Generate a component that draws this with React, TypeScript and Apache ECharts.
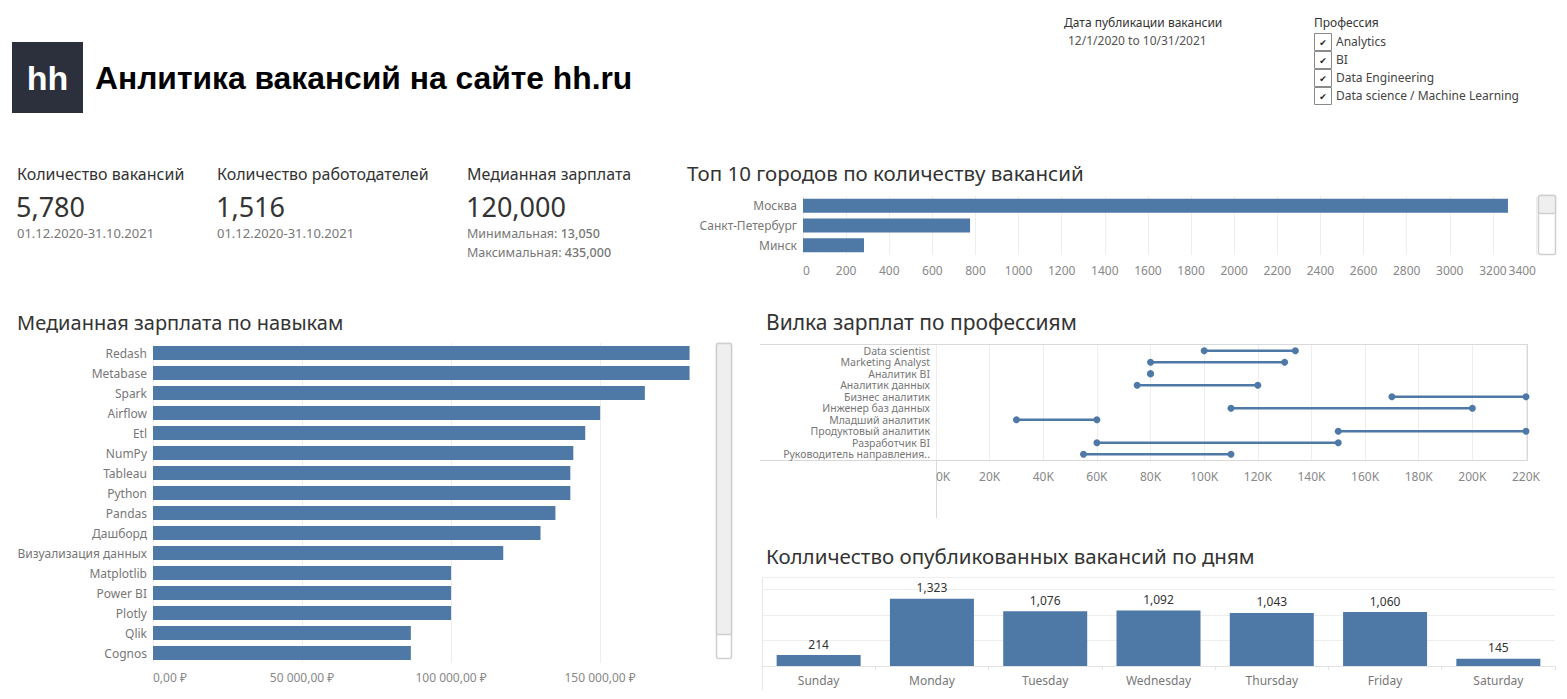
import React, { useEffect, useRef } from "react";
import * as echarts from "echarts";

const BLUE = "#4e79a7";
const FONT = '"Noto Sans", sans-serif';

const cities = ["Москва", "Санкт-Петербург", "Минск"];
const cityCounts = [3270, 775, 283];

const skills = [
  "Redash", "Metabase", "Spark", "Airflow", "Etl", "NumPy", "Tableau", "Python",
  "Pandas", "Дашборд", "Визуализация данных", "Matplotlib", "Power BI", "Plotly", "Qlik", "Cognos",
];
const skillSalary = [
  180000, 180000, 165000, 150000, 145000, 141000, 140000, 140000,
  135000, 130000, 117500, 100000, 100000, 100000, 86500, 86500,
];

const professions = [
  "Data scientist", "Marketing Analyst", "Аналитик BI", "Аналитик данных", "Бизнес аналитик",
  "Инженер баз данных", "Младший аналитик", "Продуктовый аналитик", "Разработчик BI", "Руководитель направления..",
];
const salaryMin = [100000, 80000, 80000, 75000, 170000, 110000, 30000, 150000, 60000, 55000];
const salaryMax = [134000, 130000, 80000, 120000, 220000, 200000, 60000, 220000, 150000, 110000];

const days = ["Sunday", "Monday", "Tuesday", "Wednesday", "Thursday", "Friday", "Saturday"];
const dayCounts = [214, 1323, 1076, 1092, 1043, 1060, 145];

const kpiTitles = ["Количество вакансий", "Количество работодателей", "Медианная зарплата"];
const kpiValues = ["5,780", "1,516", "120,000"];
const kpiPeriod = "01.12.2020-31.10.2021";
const kpiMin = "13,050";
const kpiMax = "435,000";

const professionFilter = ["Analytics", "BI", "Data Engineering", "Data science / Machine Learning"];

function rub(v: number) {
  const s = Math.round(v).toString().replace(/\B(?=(\d{3})+(?!\d))/g, " ");
  return s + ",00 ₽";
}

function txt(x: number, y: number, text: string, font: string, fill: string, align = "left", extra: any = {}) {
  return {
    type: "text",
    x,
    y,
    silent: true,
    style: { text, font, fill, align, verticalAlign: "middle", ...extra },
  };
}

function line(x1: number, y1: number, x2: number, y2: number, stroke = "#d9d9d9", lineWidth = 1) {
  return {
    type: "line",
    silent: true,
    shape: { x1, y1, x2, y2 },
    style: { stroke, lineWidth },
  };
}

export default function App() {
  const ref = useRef<HTMLDivElement>(null);

  useEffect(() => {
    if (!ref.current) return;
    const chart = echarts.init(ref.current, null, { renderer: "svg" });

    const graphics: any[] = [];
    // Logo + title
    graphics.push({
      type: "rect",
      silent: true,
      shape: { x: 12, y: 42, width: 71, height: 71 },
      style: { fill: "#2b303c" },
    });
    graphics.push(txt(47.5, 78, "hh", 'bold 34px "Liberation Sans", Arial', "#ffffff", "center"));
    graphics.push(txt(95, 78, "Анлитика вакансий на сайте hh.ru", 'bold 31.8px "Liberation Sans", Arial', "#000000"));

    // Filters
    graphics.push(txt(1064, 22, "Дата публикации вакансии", `12px ${FONT}`, "#333"));
    graphics.push(txt(1068, 40, "12/1/2020 to 10/31/2021", `12px ${FONT}`, "#555"));
    graphics.push(txt(1314, 22, "Профессия", `12px ${FONT}`, "#333"));
    professionFilter.forEach((p, i) => {
      const y = 33 + i * 18;
      graphics.push({
        type: "rect",
        silent: true,
        shape: { x: 1314.5, y: y + 0.5, width: 17, height: 17 },
        style: { fill: "#fff", stroke: "#8a8a8a", lineWidth: 1 },
      });
      graphics.push(txt(1323, y + 9.5, "✔", '9px "DejaVu Sans"', "#222", "center"));
      graphics.push(txt(1336, y + 8.5, p, `12px ${FONT}`, "#444"));
    });

    // KPIs
    const kx = [17, 217, 467];
    kx.forEach((x, i) => {
      graphics.push(txt(x, 174, kpiTitles[i], `16px ${FONT}`, "#333"));
      graphics.push(txt(x - 1, 206, kpiValues[i], `27px ${FONT}`, "#333"));
      if (i < 2) graphics.push(txt(x, 233, kpiPeriod, `13px ${FONT}`, "#777"));
    });
    const richKpi = {
      a: { fontFamily: FONT, fontSize: 12.5, color: "#777" },
      b: { fontFamily: FONT, fontSize: 12.5, color: "#333", fontWeight: 500 },
    };
    graphics.push(txt(467, 233, `{a|Минимальная:} {b|${kpiMin}}`, `12.5px ${FONT}`, "#777", "left", { rich: richKpi }));
    graphics.push(txt(467, 252, `{a|Максимальная:} {b|${kpiMax}}`, `12.5px ${FONT}`, "#777", "left", { rich: richKpi }));

    // Chart titles
    graphics.push(txt(687, 173, "Топ 10 городов по количеству вакансий", `20.5px ${FONT}`, "#333"));
    graphics.push(txt(17, 322, "Медианная зарплата по навыкам", `20px ${FONT}`, "#333"));
    graphics.push(txt(766, 322, "Вилка зарплат по профессиям", `21px ${FONT}`, "#333"));
    graphics.push(txt(766, 556, "Колличество опубликованных вакансий по дням", `20.5px ${FONT}`, "#333"));

    // Scrollbars
    graphics.push({
      type: "rect", silent: true,
      shape: { x: 1538.5, y: 195.5, width: 17, height: 59, r: 2 },
      style: { fill: "#fff", stroke: "#cfcfcf", lineWidth: 1.5 },
    });
    graphics.push({
      type: "rect", silent: true,
      shape: { x: 1538.5, y: 195.5, width: 17, height: 18, r: 2 },
      style: { fill: "#efefef", stroke: "#cfcfcf", lineWidth: 1.5 },
    });
    graphics.push({
      type: "rect", silent: true,
      shape: { x: 716.5, y: 343.5, width: 15, height: 315, r: 2 },
      style: { fill: "#fff", stroke: "#cfcfcf", lineWidth: 1.5 },
    });
    graphics.push({
      type: "rect", silent: true,
      shape: { x: 716.5, y: 343.5, width: 15, height: 291, r: 2 },
      style: { fill: "#efefef", stroke: "#cfcfcf", lineWidth: 1.5 },
    });

    // Salary range panel borders
    graphics.push(line(760, 344.5, 1528, 344.5));
    graphics.push(line(1527.5, 344, 1527.5, 460));
    graphics.push(line(760, 460.5, 1528, 460.5));
    graphics.push(line(936.5, 344, 936.5, 518));

    // Days panel left line
    graphics.push(line(762.5, 577, 762.5, 690, "#e6e6e6"));

    const axisLabelGray = { color: "#888", fontFamily: FONT, fontSize: 12 };
    const catLabel = { color: "#777", fontFamily: FONT, fontSize: 12 };
    const faint = { lineStyle: { color: "#eeeeee", width: 1 } };

    const option: any = {
      animation: false,
      backgroundColor: "#ffffff",
      textStyle: { fontFamily: FONT },
      graphic: { elements: graphics },
      grid: [
        { left: 803, top: 196, width: 733, height: 59 },
        { left: 153, top: 343, width: 547, height: 320 },
        { left: 936, top: 345, width: 590, height: 115 },
        { left: 762, top: 577, width: 793, height: 89 },
      ],
      xAxis: [
        {
          gridIndex: 0, type: "value", min: 0, max: 3400, interval: 200,
          axisLabel: {
            ...axisLabelGray, margin: 9, interval: 0, hideOverlap: false,
            showMinLabel: true, showMaxLabel: true,
            alignMinLabel: "left", alignMaxLabel: "right",
            formatter: (v: number) => String(v),
          },
          axisLine: { show: false }, axisTick: { show: false }, splitLine: faint,
        },
        {
          gridIndex: 1, type: "value", min: 0, max: 183500, interval: 50000,
          axisLabel: { ...axisLabelGray, margin: 8, showMaxLabel: false, alignMinLabel: "left", formatter: (v: number) => rub(v) },
          axisLine: { show: false }, axisTick: { show: false },
          splitLine: { ...faint, showMaxLine: false },
        },
        {
          gridIndex: 2, type: "value", min: 0, max: 220000, interval: 20000,
          axisLabel: { ...axisLabelGray, margin: 10, alignMinLabel: "left", formatter: (v: number) => v / 1000 + "K" },
          axisLine: { show: false }, axisTick: { show: false }, splitLine: faint,
        },
        {
          gridIndex: 3, type: "category", data: days,
          axisLabel: { ...catLabel, margin: 8 },
          axisLine: { show: true, lineStyle: { color: "#e3e3e3" } },
          axisTick: { show: true, length: 4, lineStyle: { color: "#e3e3e3" } },
        },
      ],
      yAxis: [
        {
          gridIndex: 0, type: "category", data: cities, inverse: true,
          axisLabel: { ...catLabel, margin: 6 },
          axisLine: { show: false }, axisTick: { show: false },
        },
        {
          gridIndex: 1, type: "category", data: skills, inverse: true,
          axisLabel: { ...catLabel, margin: 6, interval: 0 },
          axisLine: { show: false }, axisTick: { show: false },
        },
        {
          gridIndex: 2, type: "category", data: professions, inverse: true,
          axisLabel: { ...catLabel, margin: 6, fontSize: 10.5, lineHeight: 10, interval: 0 },
          axisLine: { show: false }, axisTick: { show: false },
        },
        {
          gridIndex: 3, type: "value", min: 0, max: 1750, interval: 500,
          axisLabel: { show: false }, axisLine: { show: false }, axisTick: { show: false },
          splitLine: faint,
        },
      ],
      series: [
        {
          type: "bar", xAxisIndex: 0, yAxisIndex: 0, data: cityCounts,
          barWidth: 14, itemStyle: { color: BLUE },
        },
        {
          type: "bar", xAxisIndex: 1, yAxisIndex: 1, data: skillSalary,
          barWidth: 14, itemStyle: { color: BLUE },
        },
        {
          type: "custom", xAxisIndex: 2, yAxisIndex: 2,
          data: professions.map((_, i) => [i, salaryMin[i], salaryMax[i]]),
          encode: { x: [1, 2], y: 0 },
          renderItem: (params: any, api: any) => {
            const lo = api.coord([api.value(1), api.value(0)]);
            const hi = api.coord([api.value(2), api.value(0)]);
            return {
              type: "group",
              children: [
                { type: "line", shape: { x1: lo[0], y1: lo[1], x2: hi[0], y2: hi[1] }, style: { stroke: BLUE, lineWidth: 2.5 } },
                { type: "circle", shape: { cx: lo[0], cy: lo[1], r: 3.5 }, style: { fill: BLUE } },
                { type: "circle", shape: { cx: hi[0], cy: hi[1], r: 3.5 }, style: { fill: BLUE } },
              ],
            };
          },
        },
        {
          type: "bar", xAxisIndex: 3, yAxisIndex: 3, data: dayCounts,
          barWidth: 84, itemStyle: { color: BLUE },
          label: {
            show: true, position: "top", distance: 5, color: "#333", fontFamily: FONT, fontSize: 12,
            formatter: (p: any) => Number(p.value).toLocaleString("en-US"),
          },
        },
      ],
    };

    chart.setOption(option);
    return () => chart.dispose();
  }, []);

  return (
    <div
      ref={ref}
      style={{ position: "absolute", left: 0, top: 0, width: 1567, height: 699, background: "#fff" }}
    />
  );
}
